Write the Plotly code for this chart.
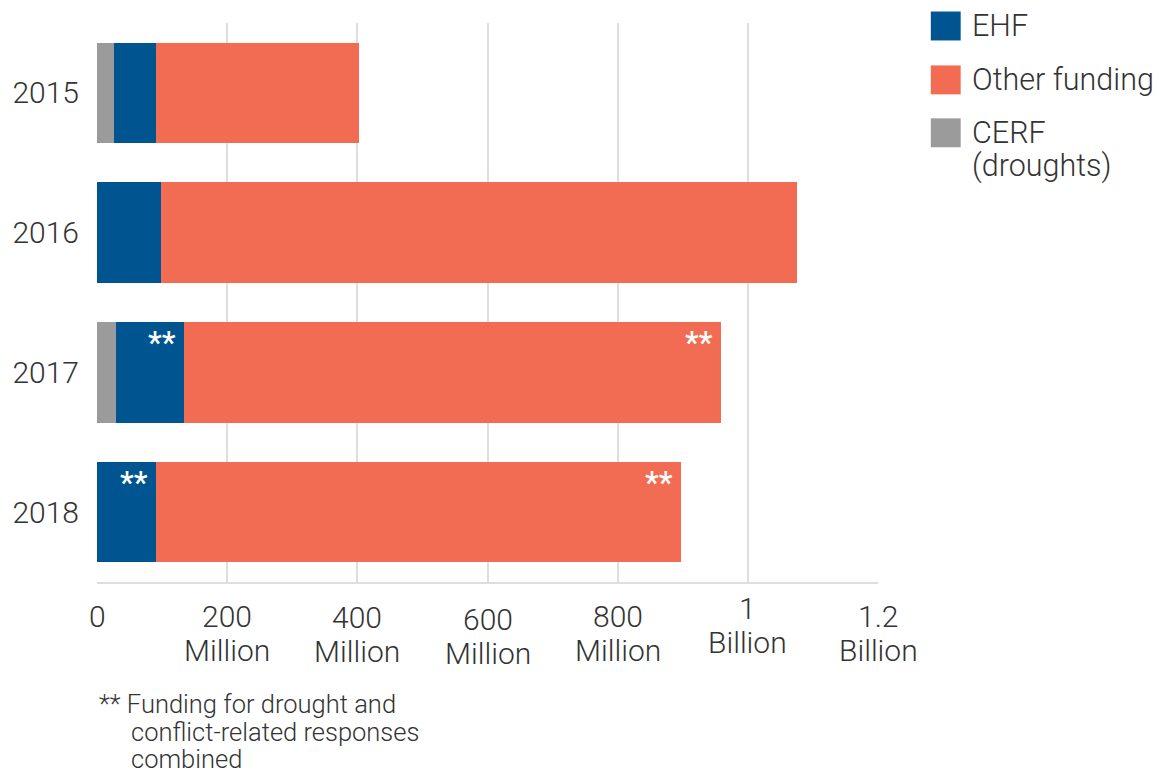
import plotly.graph_objects as go

# Funding by year (US$ millions)
years = ["2015", "2016", "2017", "2018"]
cerf_droughts = [25.5, 0, 28.5, 0]
ehf = [64.5, 98.5, 105.5, 91]
other_funding = [313, 977, 824, 806]

# Years whose EHF and other funding combine drought and conflict responses
combined_years = ["2017", "2018"]

tick_vals = [0, 200, 400, 600, 800, 1000, 1200]
tick_num = ["0", "200", "400", "600", "800", "1", "1.2"]
tick_unit = ["", "Million", "Million", "Million", "Million", "Billion", "Billion"]
tick_nudge = [0, 0, 1, 3, 0, -8, 0]

C_CERF = "#9b9b9b"
C_EHF = "#005591"
C_OTHER = "#f26c53"
TXT = "#333333"
GRID = "#dedede"
FONT = "Roboto"

# plot area in pixels
PX0, PX1, PY0, PY1 = 94, 878, 22.5, 582.5


def px_x(px):
    return (px - PX0) / (PX1 - PX0)


def px_y(py):
    return (PY1 - py) / (PY1 - PY0)


fig = go.Figure()
fig.add_trace(go.Bar(y=years, x=cerf_droughts, orientation="h", name="CERF (droughts)",
                     marker=dict(color=C_CERF, line=dict(width=0))))
fig.add_trace(go.Bar(y=years, x=ehf, orientation="h", name="EHF",
                     marker=dict(color=C_EHF, line=dict(width=0))))
fig.add_trace(go.Bar(y=years, x=other_funding, orientation="h", name="Other funding",
                     marker=dict(color=C_OTHER, line=dict(width=0))))

annotations = []

# "**" markers at the top-right of the EHF and other-funding segments
for i, yr in enumerate(years):
    if yr not in combined_years:
        continue
    ehf_end = cerf_droughts[i] + ehf[i]
    total_end = ehf_end + other_funding[i]
    for xe in (ehf_end, total_end):
        annotations.append(dict(
            x=xe, y=i, xref="x", yref="y", text="**", showarrow=False,
            xanchor="right", yanchor="middle", xshift=-6, yshift=30,
            font=dict(family=FONT, size=31, color="white", weight=500)))

# x-axis tick labels (value line and unit line)
for v, num, unit, n in zip(tick_vals, tick_num, tick_unit, tick_nudge):
    annotations.append(dict(
        x=v, y=px_y(617 + n), xref="x", yref="paper", text=num, showarrow=False,
        xanchor="center", yanchor="middle",
        font=dict(family=FONT, size=30, color=TXT, weight=300)))
    if unit:
        annotations.append(dict(
            x=v, y=px_y(651 + n), xref="x", yref="paper", text=unit, showarrow=False,
            xanchor="center", yanchor="middle",
            font=dict(family=FONT, size=30, color=TXT, weight=300)))

# Legend
legend_items = [(C_EHF, ["EHF"]), (C_OTHER, ["Other funding"]),
                (C_CERF, ["CERF", "(droughts)"])]
shapes = []
row_top = [11, 65, 118]
for (col, lines), top in zip(legend_items, row_top):
    shapes.append(dict(type="rect", xref="paper", yref="paper",
                       x0=px_x(931), x1=px_x(961),
                       y0=px_y(top), y1=px_y(top + 29),
                       fillcolor=col, line=dict(width=0), layer="above"))
    for k, line in enumerate(lines):
        annotations.append(dict(
            x=px_x(970), y=px_y(top + 14 + 34 * k),
            xref="paper", yref="paper", text=line, showarrow=False,
            xanchor="left", yanchor="middle",
            font=dict(family=FONT, size=30.5, color=TXT, weight=300)))

# Footnote
foot = [("** Funding for drought and", 94, 705),
        ("conflict-related responses", 126, 733),
        ("combined", 126, 760)]
for text, px, py in foot:
    annotations.append(dict(
        x=px_x(px), y=px_y(py), xref="paper", yref="paper",
        text=text, showarrow=False, xanchor="left", yanchor="middle",
        font=dict(family=FONT, size=25.5, color=TXT, weight=300)))

fig.update_layout(
    barmode="stack",
    bargap=0.28,
    width=1160, height=773,
    margin=dict(l=PX0, r=1160 - PX1, t=PY0, b=773 - PY1),
    paper_bgcolor="white", plot_bgcolor="white",
    showlegend=False,
    font=dict(family=FONT, color=TXT),
    annotations=annotations,
    shapes=shapes,
    xaxis=dict(range=[0, 1200], tickvals=tick_vals, showticklabels=False,
               showgrid=True, gridcolor=GRID, gridwidth=2,
               showline=True, linecolor=GRID, linewidth=2,
               zeroline=False, ticks="", fixedrange=True),
    yaxis=dict(type="category", categoryorder="array", categoryarray=years,
               range=[3.5, -0.5], autorange=False, showgrid=False,
               zeroline=False, showline=False, ticks="",
               ticklabelstandoff=17,
               tickfont=dict(family=FONT, size=30, color=TXT, weight=300)),
)

fig.write_html("out.html")
